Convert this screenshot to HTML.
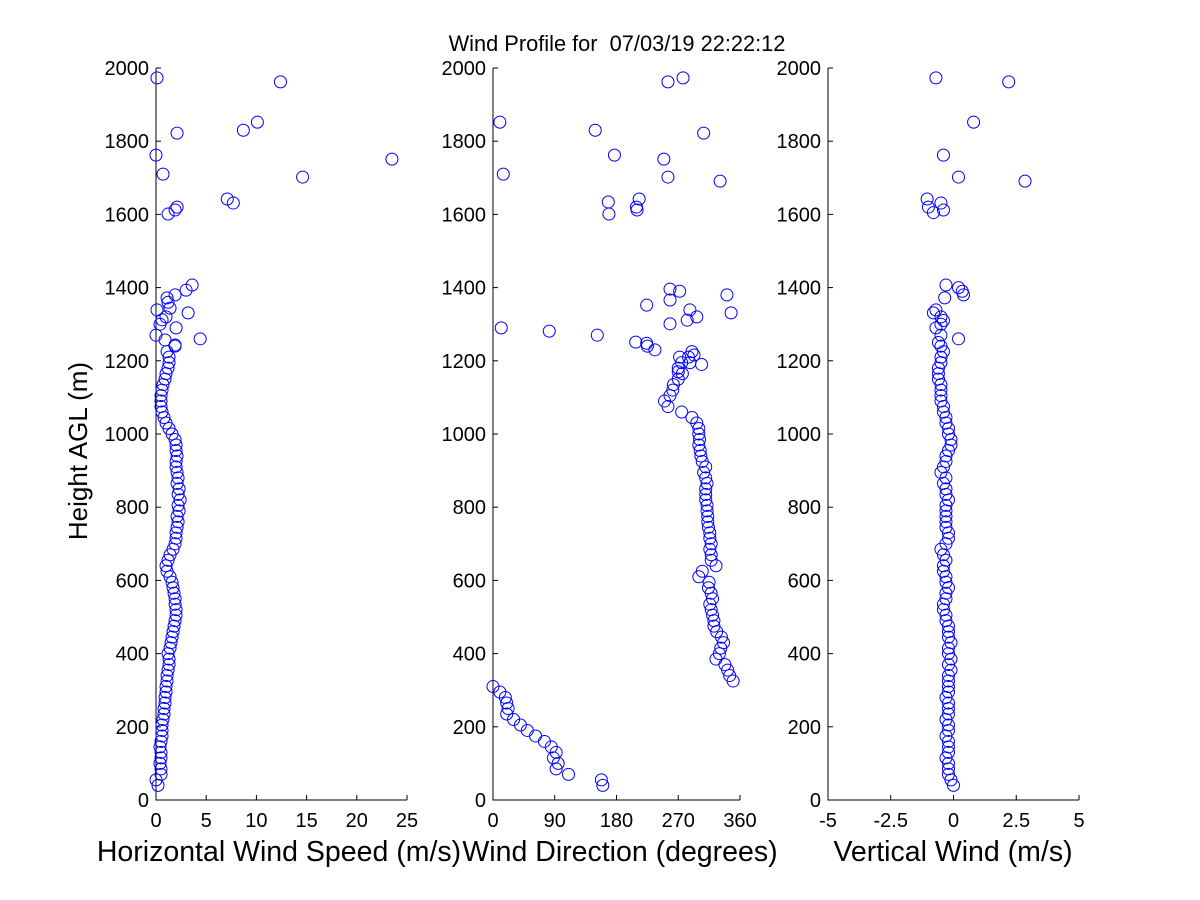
<!DOCTYPE html>
<html><head><meta charset="utf-8"><style>
html,body{margin:0;padding:0;background:#fff;}
svg{display:block;font-family:"Liberation Sans",sans-serif;}
</style></head><body>
<svg id="chart" width="1200" height="900" viewBox="0 0 1200 900">
<rect x="0" y="0" width="1200" height="900" fill="#fff"/>
<text x="617" y="51" font-size="21.8" text-anchor="middle" xml:space="preserve" style="white-space:pre">Wind Profile for  07/03/19 22:22:12</text>
<text transform="translate(87,451) rotate(-90)" font-size="26" text-anchor="middle">Height AGL (m)</text>
<g id="plots"></g>
</svg>
<script>
const heights=[40,55,70,85,100,115,130,145,160,175,190,205,220,235,250,265,280,295,310,325,340,355,370,385,400,415,430,445,460,475,490,505,520,535,550,565,580,595,610,625,640,655,670,685,700,715,730,745,760,775,790,805,820,835,850,865,880,895,910,925,940,955,970,985,1000,1015,1030,1045,1060,1075,1090,1105,1120,1135,1150,1165,1180,1195,1210,1225,1240];
const speedVals=[0.2,0.0,0.5,0.5,0.4,0.5,0.5,0.4,0.5,0.6,0.6,0.6,0.7,0.8,0.8,0.9,0.9,1.0,1.0,1.1,1.1,1.2,1.3,1.3,1.2,1.4,1.5,1.6,1.7,1.8,1.9,2.0,2.0,1.9,1.9,1.8,1.7,1.6,1.4,1.1,1.0,1.2,1.4,1.7,1.9,2.0,2.0,2.1,2.2,2.1,2.3,2.2,2.4,2.2,2.3,2.1,2.2,2.1,2.0,2.0,2.1,2.0,2.0,1.9,1.6,1.3,1.0,0.8,0.6,0.5,0.5,0.5,0.6,0.7,0.9,1.0,1.2,1.3,1.3,1.1,1.9];
const dirVals=[160,158,110,92,95,88,92,85,75,62,50,40,30,20,22,20,18,10,0,350,345,342,338,325,330,332,336,333,326,322,322,320,318,316,320,318,314,315,300,305,325,318,318,316,318,316,316,314,313,313,312,312,310,310,310,312,310,307,310,305,303,302,300,301,300,300,297,290,275,255,250,258,262,263,270,276,270,275,285,290,225];
const vertVals=[0.0,-0.1,-0.2,-0.2,-0.2,-0.3,-0.2,-0.2,-0.2,-0.3,-0.2,-0.2,-0.3,-0.2,-0.2,-0.2,-0.3,-0.2,-0.2,-0.2,-0.2,-0.1,-0.2,-0.1,-0.2,-0.2,-0.1,-0.2,-0.2,-0.2,-0.3,-0.3,-0.4,-0.4,-0.3,-0.3,-0.2,-0.3,-0.3,-0.4,-0.4,-0.3,-0.4,-0.5,-0.3,-0.2,-0.2,-0.3,-0.3,-0.3,-0.3,-0.3,-0.2,-0.3,-0.3,-0.4,-0.3,-0.5,-0.4,-0.3,-0.3,-0.2,-0.1,-0.1,-0.2,-0.2,-0.3,-0.3,-0.4,-0.4,-0.5,-0.5,-0.5,-0.5,-0.6,-0.6,-0.6,-0.5,-0.5,-0.4,-0.5];
const speedExtraH=[1973,1962,1751,1702,1852,1830,1822,1762,1710,1642,1631,1620,1612,1601,1407,1393,1331,1260,1372,1380,1339,1344,1290,1243,1270,1312,1257,1360,1300,1320];
const speedExtraV=[0.1,12.4,23.5,14.6,10.1,8.7,2.1,0.0,0.7,7.1,7.7,2.1,1.9,1.2,3.6,3.0,3.2,4.4,1.1,1.9,0.1,1.4,2.0,1.9,0.0,0.6,0.9,1.2,0.4,1.0];
const dirExtraH=[1852,1710,1290,1281,1270,1830,1762,1634,1601,1620,1642,1612,1751,1962,1973,1702,1822,1691,1380,1331,1352,1251,1248,1230,1396,1390,1339,1311,1320,1366,1301,1216,1210,1195,1190,1170];
const dirExtraV=[10,15,12,82,152,149,177,168,169,209,213,210,249,255,277,255,307,331,341,347,224,208,224,236,258,272,287,283,297,258,258,293,272,287,304,270];
const vertExtraH=[1973,1962,1691,1852,1702,1762,1642,1620,1631,1605,1612,1407,1400,1390,1372,1380,1339,1331,1320,1310,1300,1290,1270,1260,1250];
const vertExtraV=[-0.7,2.2,2.85,0.8,0.2,-0.4,-1.05,-1.0,-0.5,-0.8,-0.4,-0.3,0.2,0.35,-0.35,0.4,-0.7,-0.8,-0.5,-0.4,-0.5,-0.7,-0.5,0.2,-0.6];
const yTicks=[0,200,400,600,800,1000,1200,1400,1600,1800,2000];
const speedTicks=[0,5,10,15,20,25];
const dirTicks=[0,90,180,270,360];
const vertTicks=[-5,-2.5,0,2.5,5];
const vertTickLabels=["-5","-2.5","0","2.5","5"];

const NS="http://www.w3.org/2000/svg";
const g=document.getElementById('plots');
const Y0=800,Y1=68;
function yScale(h){return Y0+(Y1-Y0)*h/2000;}
function mk(tag,attrs,parent){const e=document.createElementNS(NS,tag);for(const k in attrs)e.setAttribute(k,attrs[k]);(parent||g).appendChild(e);return e;}
const panels=[
 {name:'speed',x0:156,x1:407,min:0,max:25,ticks:speedTicks,labels:speedTicks.map(String),title:'Horizontal Wind Speed (m/s)',tx:279,H:heights,V:speedVals,EH:speedExtraH,EV:speedExtraV},
 {name:'direction',x0:493,x1:740,min:0,max:360,ticks:dirTicks,labels:dirTicks.map(String),title:'Wind Direction (degrees)',tx:620,H:heights,V:dirVals,EH:dirExtraH,EV:dirExtraV},
 {name:'vertical',x0:828,x1:1079,min:-5,max:5,ticks:vertTicks,labels:vertTickLabels,title:'Vertical Wind (m/s)',tx:953,H:heights,V:vertVals,EH:vertExtraH,EV:vertExtraV}
];
panels.forEach(p=>{
 const xs=v=>p.x0+(p.x1-p.x0)*(v-p.min)/(p.max-p.min);
 const pg=mk('g',{});
 
 
 const ax=mk('path',{d:`M${p.x0},${Y1}V${Y0}H${p.x1}`,stroke:'#000','stroke-width':1,fill:'none'},pg);
 
 
 yTicks.forEach(t=>{
  const y=yScale(t);
  mk('line',{x1:p.x0,x2:p.x0+5,y1:y,y2:y,stroke:'#000'},pg);
  const tl=mk('text',{x:p.x0-7,y:y+7,'font-size':20,'text-anchor':'end'},pg);
  tl.textContent=t;
  
  
 });
 p.ticks.forEach((t,i)=>{
  const x=xs(t);
  mk('line',{x1:x,x2:x,y1:Y0,y2:Y0-5,stroke:'#000'},pg);
  const tl=mk('text',{x:x,y:Y0+27,'font-size':20,'text-anchor':'middle'},pg);
  tl.textContent=p.labels[i];
  
  
 });
 const tt=mk('text',{x:p.tx,y:861,'font-size':28.5,'text-anchor':'middle'},pg);
 tt.textContent=p.title;
 
 
 const draw=(H,V)=>H.forEach((h,i)=>{
  const c=mk('circle',{cx:xs(V[i]),cy:yScale(h),r:6,fill:'none',stroke:'#0000ff','stroke-width':1},pg);
  
  
 });
 draw(p.H,p.V);draw(p.EH,p.EV);
});
</script>
</body></html>
